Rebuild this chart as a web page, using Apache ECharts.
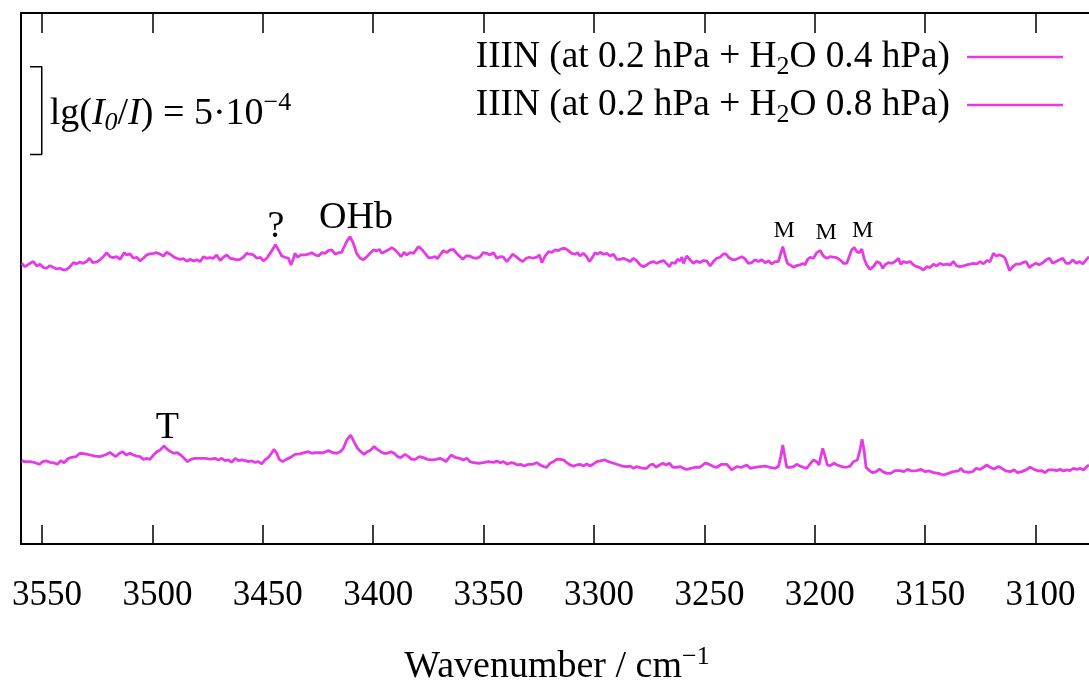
<!DOCTYPE html>
<html>
<head>
<meta charset="utf-8">
<script src="https://cdn.jsdelivr.net/npm/echarts@6/dist/echarts.min.js"></script>
<style>
html,body{margin:0;padding:0;background:#fff;}
#chart{width:1089px;height:684px;}
</style>
</head>
<body>
<div id="chart"></div>
<script>
// ---------- data (wavenumber / cm-1, lg(I0/I) in units of 1e-5, offset spectra) ----------
const xTicks = [3550, 3500, 3450, 3400, 3350, 3300, 3250, 3200, 3150, 3100];

const seriesNames = [
  'IIIN (at 0.2 hPa + H2O 0.4 hPa)',
  'IIIN (at 0.2 hPa + H2O 0.8 hPa)'
];

const spectrum04 = [
[3559.2,160.2],[3557.7,158.3],[3555.4,160.2],[3553.9,161.2],[3552.4,158.7],[3550.9,159.7],[3549.4,157.8],[3547.9,157.4],[3546.4,158.9],[3544.8,157.8],
[3543.3,157.0],[3541.8,157.4],[3540.3,156.4],[3538.8,156.8],[3537.3,158.3],[3535.8,160.6],[3534.3,159.9],[3532.8,161.0],[3531.3,160.2],[3529.7,161.4],
[3528.5,163.1],[3527.0,160.6],[3525.2,161.0],[3523.7,162.2],[3522.2,164.0],[3520.7,166.3],[3519.2,164.0],[3517.7,163.5],[3516.2,164.0],[3514.6,162.5],
[3512.8,166.3],[3511.6,165.0],[3510.1,165.6],[3508.6,163.1],[3507.1,163.7],[3505.6,161.6],[3504.1,163.1],[3502.6,165.0],[3501.1,165.6],[3499.5,165.9],
[3498.0,166.3],[3496.5,165.4],[3495.0,164.4],[3493.5,166.5],[3492.0,165.4],[3490.5,164.0],[3489.0,163.1],[3487.5,162.5],[3486.0,162.9],[3484.4,161.4],
[3482.9,162.5],[3481.4,161.6],[3479.9,162.2],[3478.4,161.2],[3476.9,164.0],[3475.4,163.1],[3473.9,163.5],[3472.4,163.1],[3470.9,165.0],[3469.3,161.8],
[3467.8,163.7],[3466.3,165.0],[3464.8,163.1],[3463.3,162.7],[3461.8,162.2],[3460.3,162.5],[3458.8,163.7],[3457.3,165.9],[3455.8,165.4],[3454.2,165.0],
[3452.7,163.1],[3451.2,163.7],[3449.7,161.6],[3448.2,163.1],[3446.7,165.9],[3445.5,168.2],[3444.3,170.9],[3442.9,167.9],[3441.4,164.4],[3439.9,163.7],
[3438.4,163.1],[3437.2,159.3],[3436.1,163.1],[3435.4,165.9],[3434.2,163.7],[3432.7,165.0],[3430.8,165.0],[3429.3,165.4],[3427.8,166.3],[3426.3,165.0],
[3424.8,164.4],[3423.3,166.3],[3421.8,165.9],[3420.3,167.5],[3418.8,167.9],[3417.2,165.4],[3415.7,166.3],[3414.2,166.5],
[3413.5,168.8],[3412.0,172.6],[3410.5,175.5],[3409.0,171.7],[3407.5,165.9],[3405.9,163.1],[3404.4,162.2],[3402.9,164.0],[3401.4,165.9],[3399.9,167.9],
[3398.4,167.3],[3397.2,168.2],[3396.1,165.9],[3394.6,166.9],[3393.1,167.9],[3391.6,169.2],[3390.1,167.9],[3388.6,165.9],[3387.4,164.0],[3386.0,166.5],
[3384.8,165.0],[3383.3,166.3],[3381.8,165.9],[3380.6,167.9],[3379.5,169.8],[3378.0,168.2],[3376.5,165.9],[3375.0,163.5],[3373.5,163.5],[3372.0,164.0],
[3370.9,162.9],[3369.7,165.0],[3368.2,167.5],[3366.7,166.3],[3365.2,167.9],[3363.7,168.2],[3362.2,165.9],[3360.6,164.0],[3359.4,162.5],[3357.9,164.4],
[3356.4,164.4],[3354.9,163.5],[3353.1,163.1],[3351.6,164.0],[3350.1,166.3],[3348.6,165.9],[3347.1,165.0],[3345.5,166.3],[3344.0,163.1],[3342.5,164.0],
[3341.0,163.7],[3339.5,161.2],[3338.0,163.5],[3336.8,165.4],[3335.3,164.0],[3333.8,162.5],[3332.3,161.2],[3330.7,163.1],[3329.2,163.7],[3327.7,163.1],
[3325.9,163.7],[3324.7,165.0],[3323.6,160.6],[3322.1,164.4],[3320.6,166.9],[3319.1,166.5],[3317.6,167.9],[3316.1,167.5],[3314.6,168.6],[3313.1,168.8],
[3311.6,167.5],[3310.1,165.9],[3308.6,165.4],[3307.5,166.3],[3306.3,164.4],[3304.8,165.9],[3303.3,164.0],[3302.1,161.2],[3300.5,164.0],[3299.5,166.3],
[3298.4,165.4],[3297.2,166.5],[3295.7,165.4],[3294.2,165.9],[3292.7,164.4],[3291.2,165.4],[3289.7,162.5],[3288.2,162.5],[3286.7,163.1],[3285.1,162.2],
[3283.6,161.2],[3282.1,163.1],[3280.6,161.6],[3279.1,159.3],[3277.6,158.3],[3276.1,159.3],[3274.6,160.6],[3273.1,161.2],[3271.6,160.2],[3270.0,161.2],
[3268.5,161.8],[3267.0,159.9],[3265.8,158.3],[3264.8,160.6],[3263.2,160.2],[3262.2,162.5],[3261.0,161.6],[3260.2,163.7],[3259.5,160.2],[3258.0,164.4],
[3255.0,160.2],[3253.5,161.6],[3252.0,160.6],[3250.5,161.8],[3249.0,161.6],[3247.4,158.7],[3245.9,161.2],[3244.4,163.1],[3242.9,163.7],[3241.4,165.6],
[3240.2,165.4],[3239.1,163.7],[3237.6,162.5],[3236.1,162.2],[3234.6,163.1],[3233.1,164.0],[3231.6,162.7],[3230.1,160.2],[3228.6,160.6],[3227.1,162.2],
[3225.5,161.2],[3224.0,162.2],[3222.5,160.6],[3221.0,161.6],[3219.5,159.9],[3218.0,161.2],[3216.5,161.2],[3215.4,165.9],[3214.5,169.8],[3213.5,165.0],
[3212.4,160.2],[3211.2,159.3],[3209.7,158.0],[3208.2,158.9],[3206.7,159.3],[3205.5,160.2],[3204.4,159.3],[3203.4,162.2],[3202.1,163.7],[3200.6,163.1],
[3199.1,166.3],[3197.6,167.5],[3196.1,164.4],[3194.6,163.1],[3193.1,164.0],[3191.6,163.7],[3190.1,163.5],[3188.6,162.2],[3187.0,160.2],[3185.5,160.2],
[3184.3,164.4],[3183.3,167.9],[3182.1,169.2],[3181.0,166.9],[3179.8,166.3],[3178.7,168.4],[3177.7,163.1],[3176.5,159.3],[3175.0,156.8],[3173.5,158.3],
[3171.9,161.2],[3170.4,160.2],[3169.2,157.4],[3168.2,159.3],[3166.7,160.6],[3165.2,160.2],[3163.6,161.2],[3162.1,163.1],[3161.1,159.7],[3159.9,161.2],
[3158.4,160.6],[3156.8,161.2],[3155.3,159.3],[3153.8,158.3],[3152.3,157.8],[3150.8,156.4],[3149.3,158.3],[3147.8,157.8],[3146.3,159.7],[3144.8,158.7],
[3143.3,160.2],[3141.7,159.3],[3140.2,159.7],[3138.7,159.3],[3137.2,161.2],[3135.7,158.7],[3134.2,158.3],[3132.7,158.7],[3131.2,159.3],[3129.7,159.7],
[3128.2,160.2],[3126.6,159.9],[3125.1,161.2],[3123.6,159.9],[3122.1,161.8],[3120.6,161.2],[3119.1,165.9],[3117.9,164.4],[3116.4,165.0],[3114.9,164.4],
[3113.8,163.1],[3112.7,159.3],[3111.8,156.1],[3110.3,158.3],[3108.8,159.7],[3107.3,159.7],[3105.8,160.6],[3104.3,161.2],[3102.8,157.8],[3101.3,159.3],
[3099.8,160.2],[3098.3,159.3],[3096.7,160.6],[3095.2,162.2],[3093.7,163.1],[3092.2,160.2],[3090.7,161.2],[3089.2,162.2],[3087.7,163.1],[3086.2,160.2],
[3084.7,160.2],[3083.2,162.2],[3081.6,160.2],[3080.1,161.2],[3078.6,159.9],[3077.1,162.2],[3075.8,164.0]
];

const spectrum08 = [
[3559.2,47.6],[3557.7,47.0],[3555.4,47.0],[3553.1,46.4],[3551.2,45.5],[3549.7,47.0],[3547.9,47.4],[3546.4,46.6],[3544.8,46.4],[3543.0,45.5],
[3541.5,47.6],[3540.0,46.4],[3538.0,48.9],[3536.5,49.5],[3534.6,49.9],[3532.8,51.8],[3530.5,51.4],[3528.2,50.8],[3526.0,50.2],[3523.7,49.9],
[3521.4,50.8],[3519.2,52.3],[3517.7,50.8],[3516.5,49.9],[3514.9,51.8],[3513.4,52.7],[3511.9,50.8],[3510.1,51.8],[3508.6,50.8],[3507.1,50.2],
[3505.6,49.9],[3504.1,48.3],[3502.6,48.9],[3501.1,48.3],[3499.5,50.8],[3498.0,52.7],[3496.5,53.7],[3494.7,55.9],[3493.2,54.0],[3491.7,52.7],
[3490.2,51.8],[3488.7,52.1],[3487.2,50.8],[3485.6,48.9],[3484.1,47.0],[3482.6,48.3],[3480.7,48.9],[3478.4,48.9],[3476.1,48.9],[3473.9,48.5],
[3471.6,48.9],[3470.1,48.0],[3468.6,48.9],[3467.1,47.6],[3465.6,48.0],[3464.1,46.6],[3462.5,48.9],[3461.0,47.6],[3459.5,48.0],[3458.0,47.6],
[3456.5,47.0],[3455.0,47.4],[3453.5,46.6],[3452.0,47.0],[3450.5,45.7],[3449.0,48.0],[3447.4,49.5],[3445.9,52.1],[3444.9,54.0],[3443.7,51.8],
[3442.5,48.3],[3441.0,47.0],[3439.4,48.3],[3437.6,49.3],[3435.4,51.2],[3433.1,51.4],[3430.8,52.3],[3429.3,52.7],[3427.8,51.8],[3426.3,52.1],
[3424.3,52.1],[3422.5,52.1],[3420.3,53.3],[3418.3,52.1],[3416.5,51.8],[3414.9,52.7],
[3413.5,54.6],[3412.0,59.4],[3410.2,62.2],[3408.7,58.4],[3407.1,54.6],[3405.6,52.7],[3404.1,51.2],[3402.6,52.7],[3401.1,53.7],[3399.6,55.6],
[3398.1,54.0],[3396.6,52.7],[3395.1,51.8],[3393.6,51.8],[3392.0,52.7],[3390.5,51.8],[3389.0,49.9],[3387.5,49.3],[3385.6,51.2],[3384.0,49.9],
[3382.5,48.3],[3381.0,48.3],[3379.1,49.9],[3377.3,49.3],[3375.4,48.3],[3373.5,48.0],[3371.5,48.3],[3369.7,48.9],[3368.2,48.0],[3367.0,47.0],
[3365.9,48.9],[3364.7,50.8],[3362.9,49.5],[3360.9,48.9],[3359.1,48.0],[3357.6,48.9],[3356.1,47.0],[3354.6,46.4],[3352.3,46.1],[3350.1,46.4],
[3347.8,47.0],[3345.5,46.6],[3344.0,47.4],[3342.5,46.4],[3341.0,47.0],[3340.3,48.0],[3339.2,45.5],[3337.7,46.4],[3336.2,46.1],[3334.7,45.1],
[3333.2,45.5],[3331.6,44.5],[3329.7,45.5],[3327.7,45.5],[3325.9,46.4],[3324.4,45.1],[3322.9,44.2],[3321.4,43.8],[3319.9,46.1],[3318.4,47.0],
[3316.9,48.3],[3315.3,48.3],[3313.8,48.0],[3312.3,46.4],[3310.8,45.1],[3309.3,44.5],[3307.8,45.1],[3306.3,45.5],[3304.8,44.5],[3303.3,45.7],
[3301.8,44.5],[3300.2,45.7],[3298.7,47.0],[3297.2,47.4],[3295.0,48.0],[3293.4,47.0],[3291.9,46.4],[3289.7,45.5],[3287.4,44.5],[3285.1,44.2],
[3283.6,44.5],[3282.1,43.2],[3280.6,44.2],[3279.1,43.6],[3277.6,43.2],[3276.1,43.2],[3274.6,45.1],[3273.4,45.7],[3271.9,43.8],[3270.3,45.1],
[3268.8,46.1],[3267.3,45.1],[3265.8,46.1],[3264.3,43.8],[3262.5,43.8],[3261.0,44.2],[3259.5,43.2],[3258.0,42.6],
[3254.2,43.8],[3252.0,43.8],[3249.7,46.1],[3248.2,45.7],[3245.9,44.2],[3244.4,43.8],[3242.2,45.5],[3239.9,45.5],[3237.6,42.3],[3235.4,44.2],
[3233.1,43.8],[3230.8,45.1],[3229.3,43.2],[3227.1,43.8],[3224.8,44.2],[3222.5,44.5],[3220.3,43.8],[3218.0,43.2],[3216.5,44.2],[3215.4,49.9],
[3214.5,56.5],[3213.6,49.9],[3212.7,43.8],[3211.2,43.8],[3209.7,44.2],[3208.2,45.5],[3206.7,44.5],[3205.2,43.8],[3203.7,43.2],[3202.1,45.7],
[3200.6,48.0],[3199.1,47.0],[3198.1,45.1],[3197.3,49.9],[3196.4,54.6],[3195.3,49.9],[3194.3,45.1],[3193.1,44.7],[3191.3,46.1],[3189.8,45.1],
[3187.8,44.2],[3185.8,43.8],[3184.0,44.5],[3182.5,47.0],[3180.7,48.0],[3179.5,53.7],[3178.6,59.8],[3177.7,53.7],[3176.8,43.8],[3175.3,41.9],
[3173.8,40.7],[3172.2,41.3],[3170.7,42.8],[3169.2,41.3],[3167.4,40.3],[3165.6,40.3],[3163.6,41.9],[3161.4,41.9],[3159.6,41.3],[3158.0,42.6],
[3156.1,41.7],[3153.8,41.9],[3152.0,42.6],[3150.0,41.3],[3148.1,41.7],[3146.3,40.7],[3144.0,40.3],[3141.7,39.4],[3139.5,40.3],[3137.2,41.3],
[3134.9,41.7],[3133.9,43.2],[3132.4,41.3],[3130.4,40.9],[3128.5,41.3],[3126.9,43.2],[3125.1,42.6],[3123.6,43.8],[3122.1,45.1],[3120.6,43.8],
[3118.8,42.8],[3116.8,44.2],[3115.3,43.2],[3113.4,41.7],[3111.5,41.3],[3109.7,42.3],[3108.2,40.7],[3106.3,41.3],[3104.3,42.3],[3102.5,43.8],
[3100.7,42.6],[3098.7,41.7],[3097.2,41.9],[3095.7,40.7],[3094.2,42.3],[3092.2,42.3],[3090.4,41.9],[3088.9,42.6],[3087.4,41.7],[3085.9,42.3],
[3084.4,41.9],[3082.9,43.2],[3081.3,42.6],[3079.8,43.2],[3078.3,42.3],[3076.8,44.2],[3075.8,45.1]
];

// peak annotations: [text, wavenumber, lg(I0/I) level]
const peakLabels = [
  ['?',   3444.0, 181.0],
  ['OHb', 3407.8, 186.0],
  ['M',   3213.9, 178.7],
  ['M',   3194.9, 177.7],
  ['M',   3178.3, 178.7],
  ['T',   3493.2, 66.0]
];

// scale bar: lg(I0/I) = 5e-4 (= 50 units of 1e-5)
const scaleBar = [[3555.4, 272.4], [3550.1, 272.4], [3550.1, 222.4], [3555.4, 222.4]];
const scaleText = 'lg({i|I}{isub|0}/{i|I}) = 5·10{sup|−4}';

const xName = 'Wavenumber / cm{sup|−1}';

// ---------- chart ----------
const FONT = "'Liberation Serif', 'Times New Roman', serif";
const MAG = '#e63ae6';
const BIG = 38;
const LH = 46;
const supStyle = { fontFamily: FONT, fontSize: 26, lineHeight: 28, verticalAlign: 'top', color: '#000' };
const subStyle = { fontFamily: FONT, fontSize: 26, lineHeight: 30, verticalAlign: 'bottom', color: '#000' };

const chart = echarts.init(document.getElementById('chart'), null, { renderer: 'canvas' });

const scaleMid = [scaleBar[1][0], (scaleBar[1][1] + scaleBar[2][1]) / 2];

chart.setOption({
  animation: false,
  backgroundColor: '#fff',
  grid: { left: 21, right: -4, top: 13, bottom: 140, containLabel: false, outerBoundsMode: 'none' },
  legend: {
    data: seriesNames,
    orient: 'vertical',
    right: 26,
    top: 34,
    padding: 0,
    align: 'right',
    icon: 'rect',
    itemWidth: 96,
    itemHeight: 2.5,
    itemGap: 2,
    formatter: n => n.replace('H2O', 'H{sub|2}O') + '{gap| }',
    textStyle: {
      fontFamily: FONT, fontSize: 37.3, lineHeight: LH, color: '#000',
      rich: { sub: subStyle, gap: { width: 12, fontSize: 10 } }
    }
  },
  xAxis: [
    {
      type: 'value', position: 'bottom', inverse: true,
      min: 3074, max: 3559.5,
      axisLine: { show: true, onZero: false, lineStyle: { color: '#000', width: 2 } },
      axisTick: { show: true, inside: true, length: 19, customValues: xTicks, lineStyle: { color: '#000', width: 1.5 } },
      axisLabel: { show: true, customValues: xTicks, formatter: v => String(v), fontFamily: FONT, fontSize: 35, color: '#000', margin: 34, padding: [0, 0, 0, 10] },
      splitLine: { show: false },
      name: xName,
      nameLocation: 'middle',
      nameGap: 100,
      nameTextStyle: {
        fontFamily: FONT, fontSize: BIG, lineHeight: LH, color: '#000',
        rich: { sup: supStyle }
      }
    },
    {
      type: 'value', position: 'top', inverse: true,
      min: 3074, max: 3559.5,
      axisLine: { show: true, onZero: false, lineStyle: { color: '#000', width: 2 } },
      axisTick: { show: true, inside: true, length: 20, customValues: xTicks, lineStyle: { color: '#000', width: 1.5 } },
      axisLabel: { show: false },
      splitLine: { show: false }
    }
  ],
  yAxis: {
    type: 'value', min: 0, max: 303.1,
    axisLine: { show: true, onZero: false, lineStyle: { color: '#000', width: 2 } },
    axisTick: { show: false },
    axisLabel: { show: false },
    splitLine: { show: false }
  },
  series: [
    {
      name: seriesNames[0], type: 'line', data: spectrum04,
      symbol: 'none', showSymbol: false, smooth: false,
      lineStyle: { color: MAG, width: 2.8 }, itemStyle: { color: MAG },
      silent: true
    },
    {
      name: seriesNames[1], type: 'line', data: spectrum08,
      symbol: 'none', showSymbol: false, smooth: false,
      lineStyle: { color: MAG, width: 2.8 }, itemStyle: { color: MAG },
      silent: true
    },
    {
      name: 'scale', type: 'line', data: scaleBar,
      symbol: 'none', showSymbol: false,
      lineStyle: { color: '#000', width: 1.5 },
      silent: true, z: 3
    }
  ]
});

// text annotations placed through the chart's own coordinate system
const toPx = p => chart.convertToPixel({ xAxisIndex: 0, yAxisIndex: 0 }, p);
const graphics = peakLabels.map(p => {
  const pt = toPx([p[1], p[2]]);
  return {
    type: 'text', x: pt[0], y: pt[1], silent: true, z: 100,
    style: {
      text: p[0], fill: '#000', fontFamily: FONT,
      fontSize: p[0] === 'M' ? 24 : BIG,
      align: 'center', verticalAlign: 'middle'
    }
  };
});
const sm = toPx(scaleMid);
graphics.push({
  type: 'text', x: sm[0] + 8, y: sm[1] + 3, silent: true, z: 100,
  style: {
    text: scaleText, fill: '#000', fontFamily: FONT, fontSize: BIG, lineHeight: LH,
    align: 'left', verticalAlign: 'middle',
    rich: {
      i: { fontFamily: FONT, fontSize: BIG, fontStyle: 'italic', fill: '#000', lineHeight: LH },
      isub: { fontFamily: FONT, fontSize: 26, lineHeight: 30, verticalAlign: 'bottom', fontStyle: 'italic', fill: '#000' },
      sup: { fontFamily: FONT, fontSize: 26, lineHeight: 28, verticalAlign: 'top', fill: '#000' }
    }
  }
});
chart.setOption({ graphic: graphics });
</script>
</body>
</html>
